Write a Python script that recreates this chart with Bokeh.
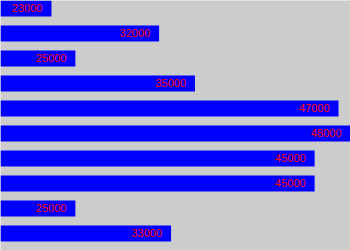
from bokeh.plotting import figure
from bokeh.models import ColumnDataSource, Range1d
from bokeh.core.properties import value
from bokeh.embed import file_html
from bokeh.resources import INLINE

values = [23000, 32000, 25000, 35000, 47000, 48000, 45000, 45000, 25000, 33000]
labels = [str(v) for v in values]
rows = list(range(len(values)))

src = ColumnDataSource(dict(
    y=[r + 0.32 for r in rows],
    right=values,
    label=labels,
))

p = figure(width=350, height=250, output_backend="svg", toolbar_location=None,
           x_range=Range1d(18740, 48000), y_range=Range1d(10, 0),
           min_border=0, min_border_left=0, min_border_right=0,
           min_border_top=0, min_border_bottom=0)
p.axis.visible = False
p.grid.visible = False
p.outline_line_color = None
p.background_fill_color = "#cccccc"
p.border_fill_color = "#cccccc"

p.hbar(y="y", left=0, right="right", height=0.64, source=src,
       fill_color="#0000ff", line_color=None)
p.text(x="right", y="y", text="label", source=src,
       text_color="#ff0000", text_align="right", text_baseline="middle",
       x_offset=-9, y_offset=-1, text_font=value("Liberation Sans"), text_font_size="11px")

open("out.html", "w").write(file_html(p, INLINE))
